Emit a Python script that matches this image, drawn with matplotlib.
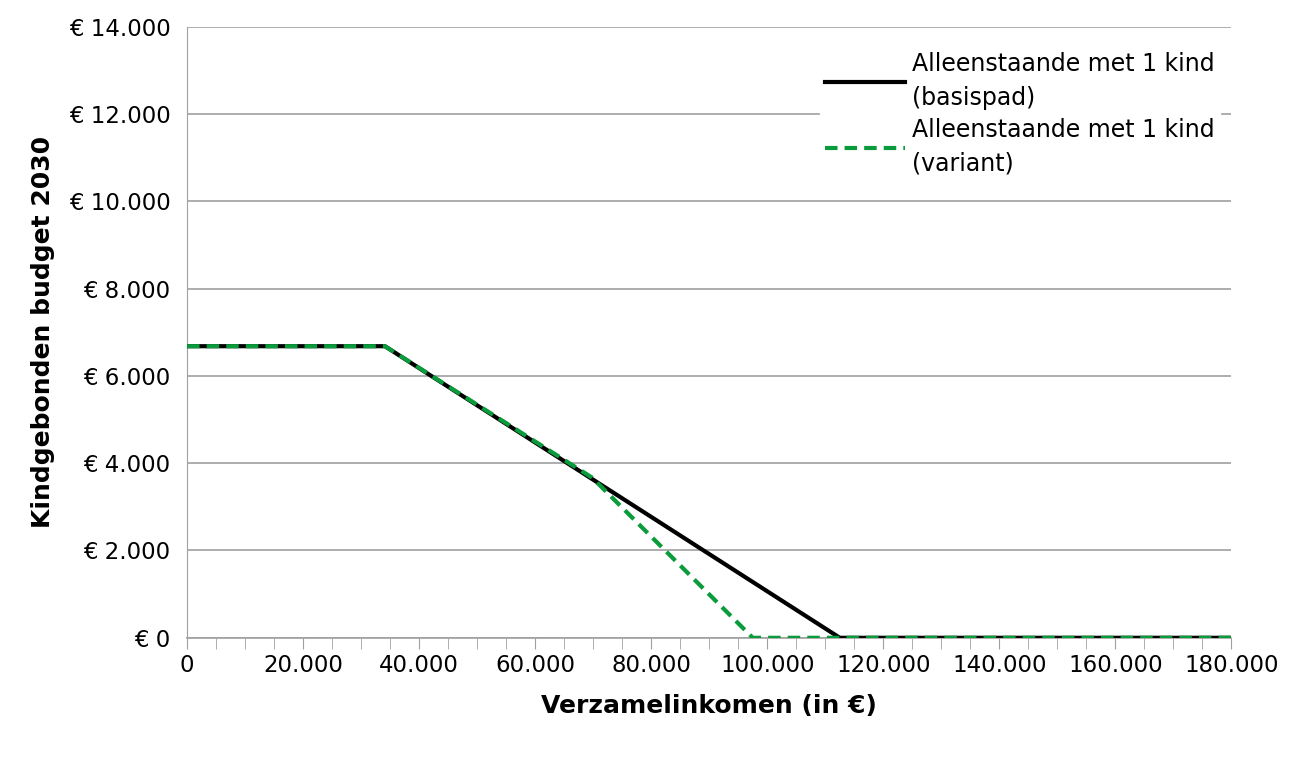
import matplotlib.pyplot as plt
from matplotlib.ticker import MultipleLocator, FuncFormatter

# Kindgebonden budget 2030, alleenstaande met 1 kind
inkomen_basis = [0, 34100, 112500, 180000]
budget_basis = [6680, 6680, 0, 0]
inkomen_variant = [0, 34100, 69800, 97500, 180000]
budget_variant = [6680, 6680, 3670, 0, 0]

plt.rcParams['font.family'] = 'DejaVu Sans'
fig = plt.figure(figsize=(12.99, 7.62), dpi=100)
ax = fig.add_axes([0.144, 0.163, 0.804, 0.802])

ax.plot(inkomen_basis, budget_basis, color='black', lw=3, zorder=3,
        label='Alleenstaande met 1 kind\n(basispad)')
ax.plot(inkomen_variant, budget_variant, color='#0a9b3c', lw=3, ls=(0, (3, 1.7)),
        zorder=4, label='Alleenstaande met 1 kind\n(variant)')

ax.set_xlim(0, 180000)
ax.set_ylim(0, 14000)
ax.xaxis.set_major_locator(MultipleLocator(20000))
ax.xaxis.set_minor_locator(MultipleLocator(5000))
ax.yaxis.set_major_locator(MultipleLocator(2000))
ax.xaxis.set_major_formatter(FuncFormatter(lambda v, p: f"{int(v):,}".replace(',', '.')))
ax.yaxis.set_major_formatter(FuncFormatter(lambda v, p: "€ " + f"{int(v):,}".replace(',', '.')))
ax.tick_params(axis='x', which='both', length=8, direction='out', color='#a0a0a0', labelsize=16.5, pad=4)
ax.tick_params(axis='y', length=0, labelsize=16.5, pad=12)
ax.grid(True, axis='y', color='#a0a0a0', lw=1.2)
for s in ['top', 'right']:
    ax.spines[s].set_visible(False)
ax.spines['left'].set_color('#a0a0a0')
ax.spines['bottom'].set_color('#a0a0a0')
ax.spines['bottom'].set_linewidth(1.2)

ax.set_xlabel('Verzamelinkomen (in €)', fontsize=18, fontweight='bold', labelpad=12)
ax.set_ylabel('Kindgebonden budget 2030', fontsize=18, fontweight='bold', labelpad=10)

leg = ax.legend(loc='upper right', bbox_to_anchor=(1.0, 0.985), fontsize=17, frameon=True,
                fancybox=False, edgecolor='white', framealpha=1, handlelength=3.4,
                handletextpad=0.3, labelspacing=0.35, borderpad=0.2)
for t in leg.get_texts():
    t.set_linespacing(1.5)
leg.set_zorder(5)

fig.savefig('out.png', dpi=100)
